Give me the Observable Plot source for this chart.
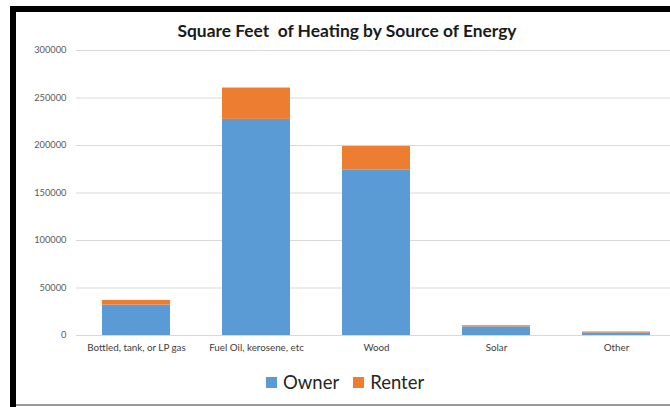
<!DOCTYPE html>
<html>
<head>
<meta charset="utf-8">
<script src="https://cdn.jsdelivr.net/npm/d3@7"></script>
<script src="https://cdn.jsdelivr.net/npm/@observablehq/plot@0.6"></script>
<style>
  html, body { margin: 0; padding: 0; background: #fff; }
  #wrap { position: relative; width: 670px; height: 407px; overflow: hidden; background: #fff; font-family: Lato, "Open Sans", sans-serif; }
  #chart { position: absolute; left: 0; top: 0; }
  #title { position: absolute; top: 20px; left: 0; width: 694px; text-align: center; font-weight: bold; font-size: 17.4px; color: #1a1a1a; white-space: nowrap; }
  #legend { position: absolute; top: 371px; left: 266px; display: flex; align-items: center; font-size: 18.5px; color: #262626; white-space: nowrap; }
  .sw { display: inline-block; width: 11px; height: 11px; margin-right: 6px; }
  .item { display: flex; align-items: center; margin-right: 14px; }
  #btop { position: absolute; left: 10px; top: 6px; width: 660px; height: 6px; background: #000; }
  #bleft { position: absolute; left: 10px; top: 6px; width: 6px; height: 401px; background: #000; }
  #bbot { position: absolute; left: 16px; top: 404px; width: 654px; height: 2px; background: #9a9a9a; }
</style>
</head>
<body>
<div id="wrap">
  <div id="chart"></div>
  <div id="title">Square Feet&nbsp; of Heating by Source of Energy</div>
  <div id="legend"></div>
  <div id="btop"></div>
  <div id="bleft"></div>
  <div id="bbot"></div>
</div>
<script>
const categories = ["Bottled, tank, or LP gas", "Fuel Oil, kerosene, etc", "Wood", "Solar", "Other"];
const series = ["Owner", "Renter"];
const owner = [32000, 227500, 174000, 9000, 2700];
const renter = [4900, 33000, 25000, 1300, 1000];
const yTicks = [0, 50000, 100000, 150000, 200000, 250000, 300000];
const colors = ["#5B9BD5", "#ED7D31"];

const data = [];
categories.forEach((c, i) => {
  data.push({category: c, series: "Owner", value: owner[i]});
  data.push({category: c, series: "Renter", value: renter[i]});
});

const plot = Plot.plot({
  width: 670,
  height: 407,
  marginTop: 50,
  marginBottom: 72,
  marginLeft: 76,
  marginRight: 0,
  style: {fontFamily: "Lato, 'Open Sans', sans-serif", background: "white"},
  x: {domain: categories, range: [76, 677], paddingInner: 0.43, paddingOuter: 0.215, label: null},
  y: {domain: [0, 300000], label: null},
  color: {domain: series, range: colors},
  marks: [
    Plot.ruleY(yTicks, {stroke: "#d9d9d9", strokeWidth: 1}),
    Plot.barY(data, {x: "category", y: "value", fill: "series", order: series}),
    Plot.axisY({ticks: yTicks, tickFormat: d => String(d), tickSize: 0, tickPadding: 10, fontSize: 9.3, fill: "#595959", label: null}),
    Plot.axisX({tickSize: 0, tickPadding: 9, fontSize: 9.8, fill: "#404040", label: null})
  ]
});
document.getElementById("chart").appendChild(plot);

const legend = document.getElementById("legend");
series.forEach((s, i) => {
  const item = document.createElement("div");
  item.className = "item";
  const sw = document.createElement("span");
  sw.className = "sw";
  sw.style.background = colors[i];
  const t = document.createElement("span");
  t.textContent = s;
  item.appendChild(sw);
  item.appendChild(t);
  legend.appendChild(item);
});
</script>
</body>
</html>
